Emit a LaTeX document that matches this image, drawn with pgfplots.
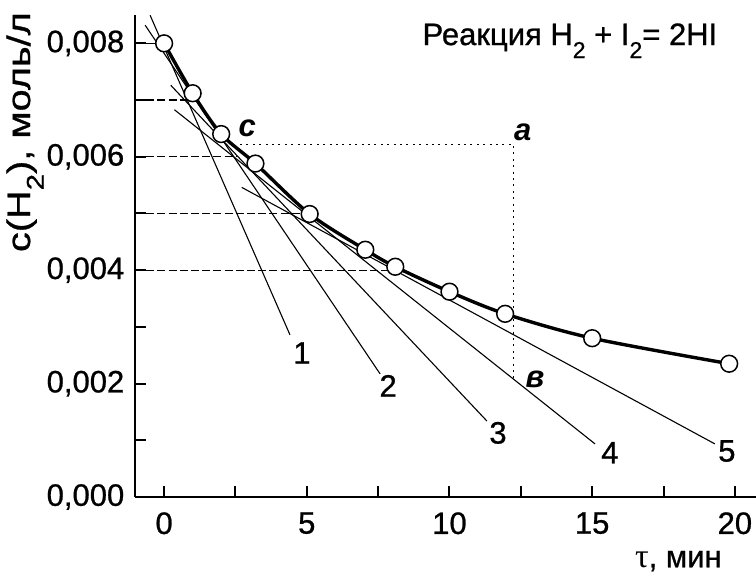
\documentclass[border=0pt]{standalone}
\usepackage{pgfplots}
\pgfplotsset{compat=1.18}
\usepackage{fontspec}
\setmainfont{Liberation Sans}[UprightFeatures={FakeBold=0.8}]
\newfontfamily\seriffont{Liberation Serif}
\newcommand{\sub}[1]{\raisebox{-6.5pt}{\fontsize{11.5}{12}\selectfont #1}}
\begin{document}
\begin{tikzpicture}
\fontsize{15.5}{18}\selectfont
\begin{axis}[name=ax,
  scale only axis, width=310.5pt, height=241pt,
  xmin=-1.02, xmax=20.74, ymin=0, ymax=0.0085,
  axis x line*=bottom, axis y line*=left,
  axis line style={line width=1.4pt,-},
  clip=false,
  tick align=inside,
  major tick length=5.5pt, minor tick length=5.5pt,
  every tick/.style={black, line width=1pt},
  xtick={0,5,10,15,20}, xticklabels={0,5,10,15,20},
  minor xtick={2.5,7.5,12.5,17.5},
  ytick={0,0.002,0.004,0.006,0.008},
  yticklabels={{0,000},{0,002},{0,004},{0,006},{0,008}},
  minor ytick={0.001,0.003,0.005,0.007},
  xticklabel style={yshift=-2.3pt},
  scaled y ticks=false,
  ticklabel style={font=\fontsize{15.5}{18}\selectfont},
  ylabel={\scalebox{1.28}[1.05]{c(H\sub{2}), моль/л}},
  ylabel style={at={(axis description cs:-0.177,0.757)}, anchor=center, font=\fontsize{15.5}{18}\selectfont},
  xlabel={{\seriffont\fontsize{17}{18}\selectfont τ}, мин},
  xlabel style={at={(axis description cs:0.875,-0.133)}, anchor=center, font=\fontsize{15.5}{18}\selectfont},
]
% dashed guide lines
\addplot[black, line width=0.5pt] coordinates {(-1.02,0.008) (0,0.008)};
\addplot[black, line width=0.6pt, dash pattern=on 4pt off 1.6pt] coordinates {(-1.02,0.007) (0.8,0.007)};
\addplot[black, line width=0.6pt, dash pattern=on 4pt off 1.6pt] coordinates {(-1.02,0.006) (2.55,0.006)};
\addplot[black, line width=0.6pt, dash pattern=on 4pt off 1.6pt] coordinates {(-1.02,0.005) (4.87,0.005)};
\addplot[black, line width=0.6pt, dash pattern=on 4pt off 1.6pt] coordinates {(-1.02,0.004) (8.09,0.004)};
% dotted construction
\addplot[black, line width=0.7pt, dash pattern=on 1pt off 2.2pt] coordinates {(2.66,0.00622) (12.24,0.00622) (12.24,0.00208)};
% tangent lines
\addplot[black, line width=0.55pt] coordinates {(-0.49,0.008495) (4.41,0.00286)};
\addplot[black, line width=0.55pt] coordinates {(-0.665,0.00832) (7.57,0.00217)};
\addplot[black, line width=0.55pt] coordinates {(0.235,0.00726) (11.31,0.00134)};
\addplot[black, line width=0.55pt] coordinates {(0.36,0.00683) (15.10,0.000936)};
\addplot[black, line width=0.55pt] coordinates {(2.72,0.00546) (19.30,0.000936)};
% kinetic curve
\addplot[black, line width=1.7pt, smooth] coordinates {
(0,0.0080) (1,0.00712) (2,0.00640) (3.2,0.00588) (5.1,0.00499) (7.05,0.00436)
(8.1,0.00406) (10,0.00362) (11.95,0.00323) (15,0.00280) (19.8,0.00235)};
\addplot[only marks, mark=*, mark size=4.2pt, mark options={fill=white, draw=black, line width=0.75pt}] coordinates {
(0,0.0080) (1,0.00712) (2,0.00640) (3.2,0.00588) (5.1,0.00499) (7.05,0.00436)
(8.1,0.00406) (10,0.00362) (11.95,0.00323) (15,0.00280) (19.8,0.00235)};
% labels
\node[font=\bfseries\itshape] at (axis cs:2.91,0.0065) {c};
\node[font=\bfseries\itshape] at (axis cs:12.57,0.00643) {a};
\node[font=\bfseries\itshape] at (axis cs:13.0,0.00208) {в};
\node at (axis cs:4.83,0.00254) {1};
\node at (axis cs:7.85,0.00196) {2};
\node at (axis cs:11.70,0.00113) {3};
\node at (axis cs:15.62,0.00078) {4};
\node at (axis cs:19.72,0.00081) {5};
\node[anchor=base] at (axis cs:14.22,0.00797) {Реакция H\sub{2} + I\sub{2}= 2HI};
\end{axis}
\pgfresetboundingbox
\path ([xshift=-67.5pt,yshift=-38.5pt]ax.south west) rectangle ([yshift=7.5pt]ax.north east);
\end{tikzpicture}
\end{document}
